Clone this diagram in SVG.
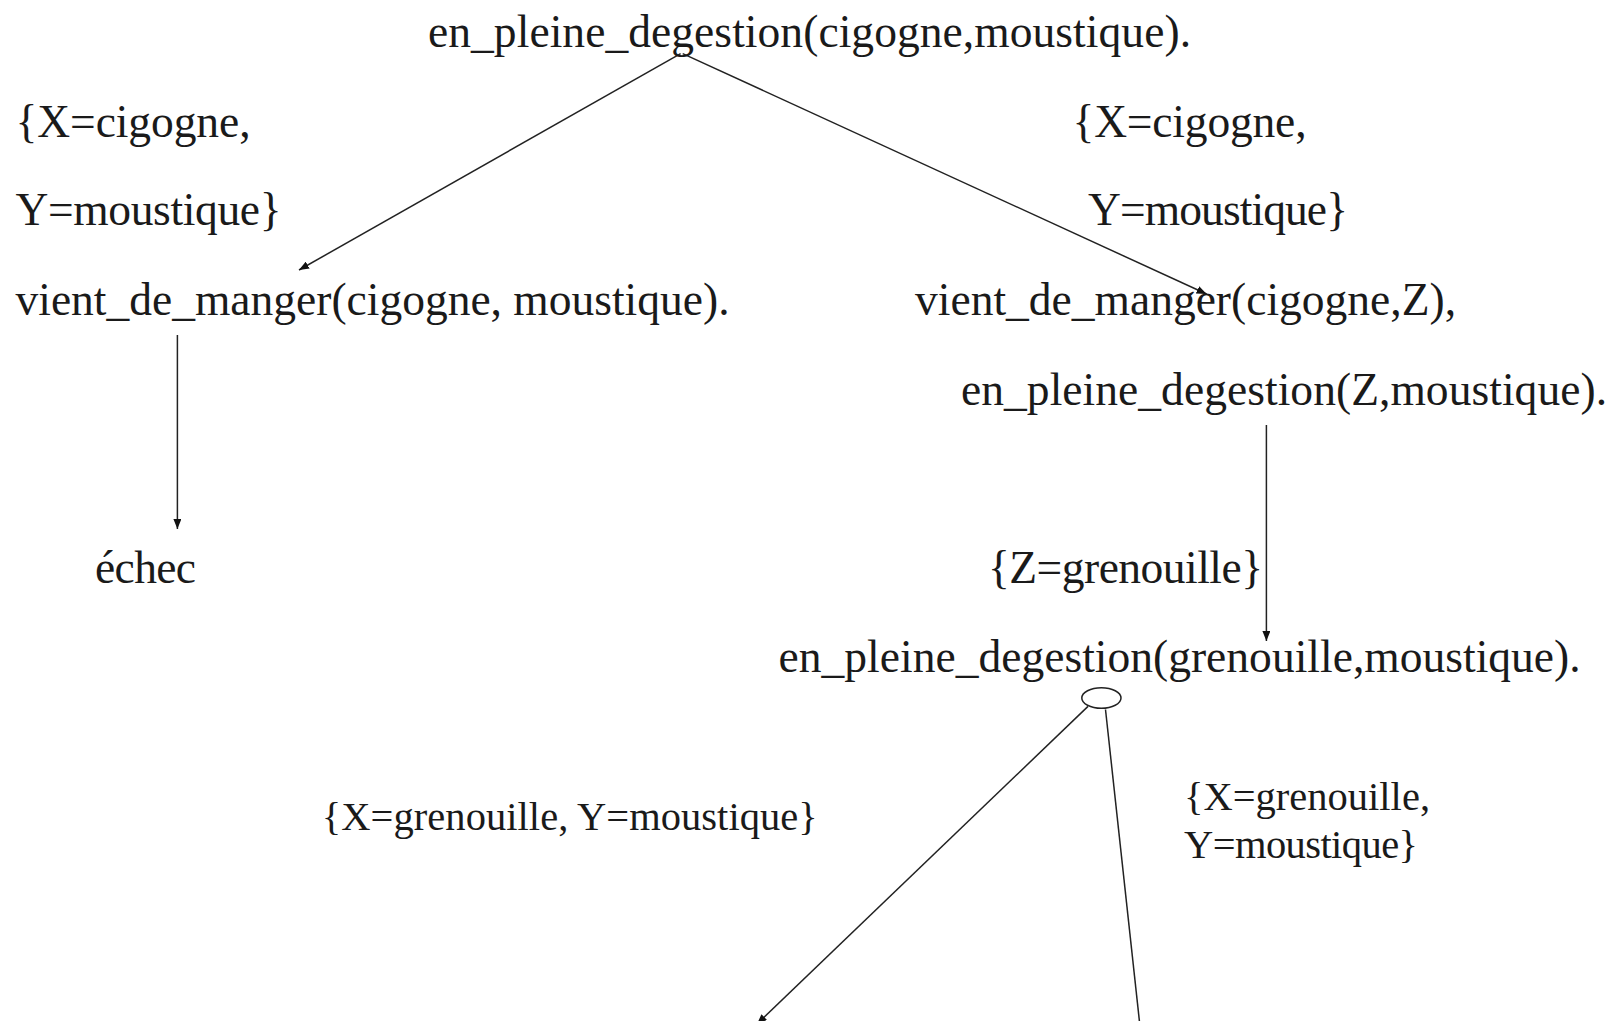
<svg xmlns="http://www.w3.org/2000/svg" width="1617" height="1021" viewBox="0 0 1617 1021">
<style>
text{font-family:"Liberation Serif","Times New Roman",serif;fill:#1a1a1a}
.b{font-size:45.5px}
.s{font-size:40.5px}
.c{stroke:#222;stroke-width:1.5;fill:none}
</style>
<defs>
<marker id="ah" viewBox="0 0 10 8" refX="10" refY="4" markerWidth="10" markerHeight="8" markerUnits="userSpaceOnUse" orient="auto">
<path d="M0,0 L10,4 L0,8 z" fill="#111"/>
</marker>
</defs>
<rect width="1617" height="1021" fill="#fff"/>
<g id="connectors">
<line class="c" x1="680.6" y1="53.6" x2="299" y2="270" marker-end="url(#ah)"/>
<line class="c" x1="682.7" y1="53.6" x2="1206.6" y2="294" marker-end="url(#ah)"/>
<line class="c" x1="177.4" y1="335" x2="177.4" y2="529" marker-end="url(#ah)"/>
<line class="c" x1="1266.4" y1="425" x2="1266.4" y2="641" marker-end="url(#ah)"/>
<line class="c" x1="1088" y1="706.4" x2="757" y2="1024" marker-end="url(#ah)"/>
<line class="c" x1="1105.5" y1="709.5" x2="1140.6" y2="1032" marker-end="url(#ah)"/>
</g>
<g id="n_root"><text class="b" x="428" y="47" textLength="763">en_pleine_degestion(cigogne,moustique).</text></g>
<g id="l_left1"><text class="b" x="15.5" y="137" textLength="235">{X=cigogne,</text><text class="b" x="15.5" y="225" textLength="266">Y=moustique}</text></g>
<g id="n_vdm1"><text class="b" x="15.5" y="314.5" textLength="714">vient_de_manger(cigogne, moustique).</text></g>
<g id="l_right1"><text class="b" x="1072.5" y="137" textLength="234">{X=cigogne,</text><text class="b" x="1088" y="225" textLength="260">Y=moustique}</text></g>
<g id="n_vdm2"><text class="b" x="915" y="314.5" textLength="541">vient_de_manger(cigogne,Z),</text><text class="b" x="961" y="405" textLength="646">en_pleine_degestion(Z,moustique).</text></g>
<g id="n_echec"><text class="b" x="95" y="582.6" textLength="101">échec</text></g>
<g id="l_z"><text class="b" x="988" y="582.6" textLength="275">{Z=grenouille}</text></g>
<g id="n_epd"><text class="b" x="778.6" y="672" textLength="802">en_pleine_degestion(grenouille,moustique).</text><ellipse class="c" cx="1101.4" cy="698" rx="19.6" ry="10.3"/></g>
<g id="l_left2"><text class="s" x="321.8" y="830" textLength="496">{X=grenouille, Y=moustique}</text></g>
<g id="l_right2"><text class="s" x="1184" y="809.5" textLength="246">{X=grenouille,</text><text class="s" x="1184" y="858" textLength="234">Y=moustique}</text></g>
</svg>
